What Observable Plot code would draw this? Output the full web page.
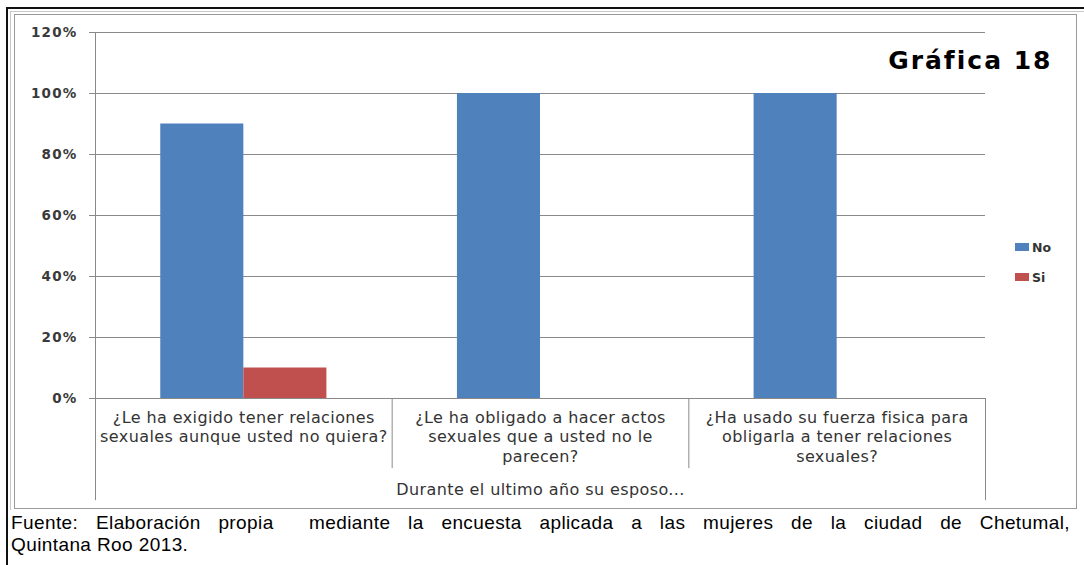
<!DOCTYPE html>
<html>
<head>
<meta charset="utf-8">
<script src="https://cdn.jsdelivr.net/npm/d3@7"></script>
<script src="https://cdn.jsdelivr.net/npm/@observablehq/plot@0.6"></script>
<style>
  html, body { margin: 0; padding: 0; background: #fff; }
  #wrap { position: relative; width: 1084px; height: 565px; overflow: hidden; background: #fff; }
  .outer { position: absolute; left: 6px; top: 7px; width: 1200px; height: 700px;
           border-left: 2px solid #111; border-top: 2px solid #111; }
  .outer2 { position: absolute; left: 10px; top: 11px; width: 1200px; height: 498px;
            border-left: 1px solid #c8c8c8; border-top: 1px solid #c8c8c8; }
  .frame { position: absolute; left: 14px; top: 14px; width: 1061px; height: 493px;
           border: 1px solid #9a9a9a; }
  #chart { position: absolute; left: 0; top: 0; }
  #legend { position: absolute; left: 1015px; top: 232px; font-family: "DejaVu Sans", sans-serif;
            font-size: 12.5px; font-weight: bold; color: #333; }
  #legend div { display: flex; align-items: center; height: 30px; }
  #legend span.sw { display: inline-block; width: 14px; height: 8px; margin-right: 3px; }
  #caption { position: absolute; left: 11px; top: 512px; width: 1059px; font-family: "Liberation Sans", Arial, sans-serif;
             font-size: 19px; line-height: 22px; color: #000; letter-spacing: 0.4px; }
  #caption div.full { text-align: justify; text-align-last: justify; white-space: nowrap; }
</style>
</head>
<body>
<div id="wrap">
  <div class="outer"></div>
  <div class="outer2"></div>
  <div class="frame"></div>
  <div id="chart"></div>
  <div id="legend"></div>
  <div id="caption"></div>
</div>
<script>
const categories = [
  "¿Le ha exigido tener relaciones\nsexuales aunque usted no quiera?",
  "¿Le ha obligado a hacer actos\nsexuales que a usted no le\nparecen?",
  "¿Ha usado su fuerza fisica para\nobligarla a tener relaciones\nsexuales?"
];
const series = ["No", "Si"];
const noValues = [0.90, 1.00, 1.00];
const siValues = [0.10, 0.00, 0.00];
const yTicks = [0, 0.2, 0.4, 0.6, 0.8, 1.0, 1.2];
const colors = ["#4F81BD", "#C0504D"];
const groupLabel = "Durante el ultimo año su esposo...";
const title = "Gráfica 18";
const captionLines = [
  "Fuente: Elaboración propia\u00a0 mediante la encuesta aplicada a las mujeres de la ciudad de Chetumal,",
  "Quintana Roo 2013."
];

const rows = [];
categories.forEach((c, i) => {
  rows.push({i, series: "No", value: noValues[i]});
  rows.push({i, series: "Si", value: siValues[i]});
});
const barW = 0.28;

const font = '"DejaVu Sans", sans-serif';
const chart = Plot.plot({
  width: 1084,
  height: 510,
  marginLeft: 95,
  marginRight: 99,
  marginTop: 32,
  marginBottom: 112,
  style: {background: "transparent", fontFamily: font, fontSize: "16px", color: "#333", letterSpacing: "0.4px"},
  x: {type: "linear", domain: [0, categories.length], axis: null},
  y: {domain: [0, 1.2], axis: null},
  color: {domain: series, range: colors},
  marks: [
    Plot.gridY(yTicks, {stroke: "#8a8a8a", strokeOpacity: 1, strokeWidth: 1}),
    Plot.axisY(yTicks, {
      tickFormat: d => Math.round(d * 100) + "%",
      tickSize: 6, tickPadding: 12, stroke: "#8a8a8a", fill: "#3a3a3a",
      fontSize: 13.5, fontWeight: "bold", label: null
    }),
    Plot.rectY(rows, {
      x1: d => d.i + 0.5 - (d.series === "No" ? barW : 0),
      x2: d => d.i + 0.5 + (d.series === "No" ? 0 : barW),
      y1: 0, y2: "value", fill: "series"
    }),
    Plot.ruleX([0], {y1: -0.335, y2: 1.2, stroke: "#8a8a8a"}),
    Plot.ruleX([categories.length], {y1: -0.335, y2: 0, stroke: "#8a8a8a"}),
    Plot.ruleX(d3.range(1, categories.length), {y1: -0.23, y2: 0, stroke: "#8a8a8a"}),
    Plot.axisX(categories.map((c, i) => i + 0.5), {
      tickFormat: d => categories[Math.floor(d)],
      tickSize: 0, tickPadding: 11, fontSize: 16, fill: "#333", lineHeight: 1.2, label: null
    }),
    Plot.text([groupLabel], {x: categories.length / 2, y: -0.3, text: d => d, fontSize: 16, fill: "#333"}),
    Plot.text([title], {frameAnchor: "top-right", dx: 67, dy: 28, lineAnchor: "middle", text: d => d,
      fontSize: 25, fontWeight: "bold", fill: "#000", textAnchor: "end"})
  ]
});
document.getElementById("chart").appendChild(chart);

// letter spacing tweaks to imitate the wide original typeface
d3.select(chart).selectAll('g[aria-label="y-axis tick label"] text').style("letter-spacing", "1.2px");
d3.select(chart).selectAll("text").filter(function() { return this.textContent === title; })
  .style("letter-spacing", "2px");

const legend = document.getElementById("legend");
series.forEach((s, k) => {
  const row = document.createElement("div");
  row.innerHTML = `<span class="sw" style="background:${colors[k]}"></span>${s}`;
  legend.appendChild(row);
});

const caption = document.getElementById("caption");
captionLines.forEach((line, k) => {
  const div = document.createElement("div");
  if (k < captionLines.length - 1) div.className = "full";
  div.textContent = line;
  caption.appendChild(div);
});
</script>
</body>
</html>
